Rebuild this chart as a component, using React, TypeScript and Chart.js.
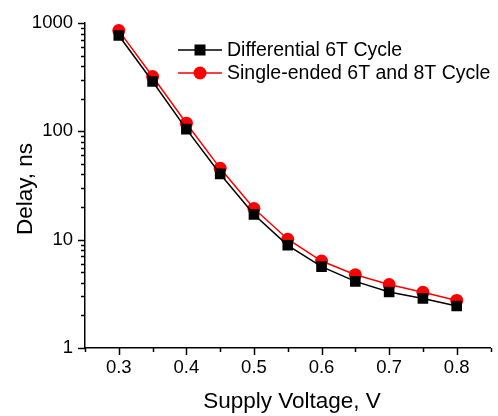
import { useEffect, useRef } from "react";
import { Chart, registerables } from "chart.js";

Chart.register(...registerables);

const voltages = [0.3, 0.35, 0.4, 0.45, 0.5, 0.55, 0.6, 0.65, 0.7, 0.75, 0.8];
const differential = [769, 289, 105, 40.5, 17.1, 8.88, 5.64, 4.12, 3.29, 2.87, 2.44];
const singleEnded = [853, 321, 119, 45.6, 19.4, 10.1, 6.35, 4.74, 3.85, 3.27, 2.75];
const seriesNames = ["Differential 6T Cycle", "Single-ended 6T and 8T Cycle"];
const seriesColors = ["#000000", "#ff0000"];
const xMajorTicks = [0.3, 0.4, 0.5, 0.6, 0.7, 0.8];
const xMinorTicks = [0.25, 0.35, 0.45, 0.55, 0.65, 0.75, 0.85];
const yMajorTicks = [1, 10, 100, 1000];
const yMinorMultipliers = [2, 3, 4, 5, 6, 7, 8, 9];
const xTitle = "Supply Voltage, V";
const yTitle = "Delay, ns";

const FONT = '"Liberation Sans", Arial, Helvetica, sans-serif';

const overlayPlugin = {
  id: "overlay",
  afterDraw(chart: any) {
    const ctx = chart.ctx as CanvasRenderingContext2D;
    const xs = chart.scales.x;
    const ys = chart.scales.y;
    const area = chart.chartArea;
    ctx.save();
    ctx.strokeStyle = "#000";
    ctx.lineWidth = 1.5;
    const drawX = (v: number, len: number) => {
      const px = Math.round(xs.getPixelForValue(v)) + 0.5;
      ctx.beginPath();
      ctx.moveTo(px, area.bottom);
      ctx.lineTo(px, area.bottom + len);
      ctx.stroke();
    };
    xMajorTicks.forEach((v) => drawX(v, 7));
    xMinorTicks.forEach((v) => drawX(v, 4));
    const drawY = (v: number, len: number) => {
      const py = Math.round(ys.getPixelForValue(v)) + 0.5;
      ctx.beginPath();
      ctx.moveTo(area.left, py);
      ctx.lineTo(area.left - len, py);
      ctx.stroke();
    };
    yMajorTicks.forEach((v) => drawY(v, 7));
    yMajorTicks.slice(0, -1).forEach((d) =>
      yMinorMultipliers.forEach((m) => drawY(d * m, 4))
    );

    // titles
    ctx.fillStyle = "#000";
    ctx.font = `22.5px ${FONT}`;
    ctx.textAlign = "center";
    ctx.textBaseline = "alphabetic";
    ctx.fillText(xTitle, 292, 408);
    ctx.save();
    ctx.translate(32, 189);
    ctx.rotate(-Math.PI / 2);
    ctx.fillText(yTitle, 0, 0);
    ctx.restore();

    // legend
    ctx.font = `19.5px ${FONT}`;
    ctx.textAlign = "left";
    seriesNames.forEach((name, i) => {
      const y = 50 + i * 23;
      ctx.strokeStyle = seriesColors[i];
      ctx.lineWidth = 1.5;
      ctx.beginPath();
      ctx.moveTo(178, y);
      ctx.lineTo(222, y);
      ctx.stroke();
      ctx.fillStyle = seriesColors[i];
      if (i === 0) {
        ctx.fillRect(200 - 5.5, y - 5.5, 11, 11);
      } else {
        ctx.beginPath();
        ctx.arc(200, y, 6.5, 0, Math.PI * 2);
        ctx.fill();
      }
      ctx.fillStyle = "#000";
      ctx.fillText(name, 227, y + 6);
    });
    ctx.restore();
  },
};

export default function App() {
  const canvasRef = useRef<HTMLCanvasElement | null>(null);

  useEffect(() => {
    const canvas = canvasRef.current;
    if (!canvas) return;
    const chart = new Chart(canvas, {
      type: "line",
      data: {
        datasets: [
          {
            label: seriesNames[0],
            data: voltages.map((v, i) => ({ x: v, y: differential[i] })),
            borderColor: seriesColors[0],
            backgroundColor: seriesColors[0],
            borderWidth: 1.5,
            pointStyle: "rect",
            pointRadius: 7.5,
            pointBorderWidth: 0,
            pointBackgroundColor: seriesColors[0],
            tension: 0,
          },
          {
            label: seriesNames[1],
            data: voltages.map((v, i) => ({ x: v, y: singleEnded[i] })),
            borderColor: seriesColors[1],
            backgroundColor: seriesColors[1],
            borderWidth: 1.5,
            pointStyle: "circle",
            pointRadius: 6.5,
            pointBorderWidth: 0,
            pointBackgroundColor: seriesColors[1],
            tension: 0,
          },
        ],
      },
      options: {
        animation: false,
        responsive: false,
        devicePixelRatio: 1,
        layout: { padding: { left: 0, right: 6, top: 17, bottom: 0 } },
        plugins: {
          legend: { display: false },
          tooltip: { enabled: false },
        },
        scales: {
          x: {
            type: "linear",
            min: 0.25,
            max: 0.85,
            grid: { display: false, drawTicks: false },
            border: { display: true, color: "#000", width: 1.5 },
            afterBuildTicks: (s: any) => {
              s.ticks = xMajorTicks.map((v) => ({ value: v }));
            },
            afterFit: (s: any) => {
              s.height = 68;
            },
            ticks: {
              color: "#000",
              font: { family: FONT, size: 18.5 },
              padding: 9,
              maxRotation: 0,
              autoSkip: false,
              callback: (v: any) => Number(v).toFixed(1),
            },
          },
          y: {
            type: "logarithmic",
            min: 1,
            max: 1000,
            grid: { display: false, drawTicks: false },
            border: { display: true, color: "#000", width: 1.5 },
            afterBuildTicks: (s: any) => {
              s.ticks = yMajorTicks.map((v) => ({ value: v }));
            },
            afterFit: (s: any) => {
              s.width = 85;
            },
            ticks: {
              color: "#000",
              font: { family: FONT, size: 18.5 },
              padding: 12,
              autoSkip: false,
              callback: (v: any) => String(v),
            },
          },
        },
      },
      plugins: [overlayPlugin],
    });
    return () => chart.destroy();
  }, []);

  return (
    <div style={{ position: "absolute", left: 0, top: 0, width: 498, height: 416, background: "#fff" }}>
      <canvas ref={canvasRef} width={498} height={416} style={{ display: "block", width: 498, height: 416 }} />
    </div>
  );
}
